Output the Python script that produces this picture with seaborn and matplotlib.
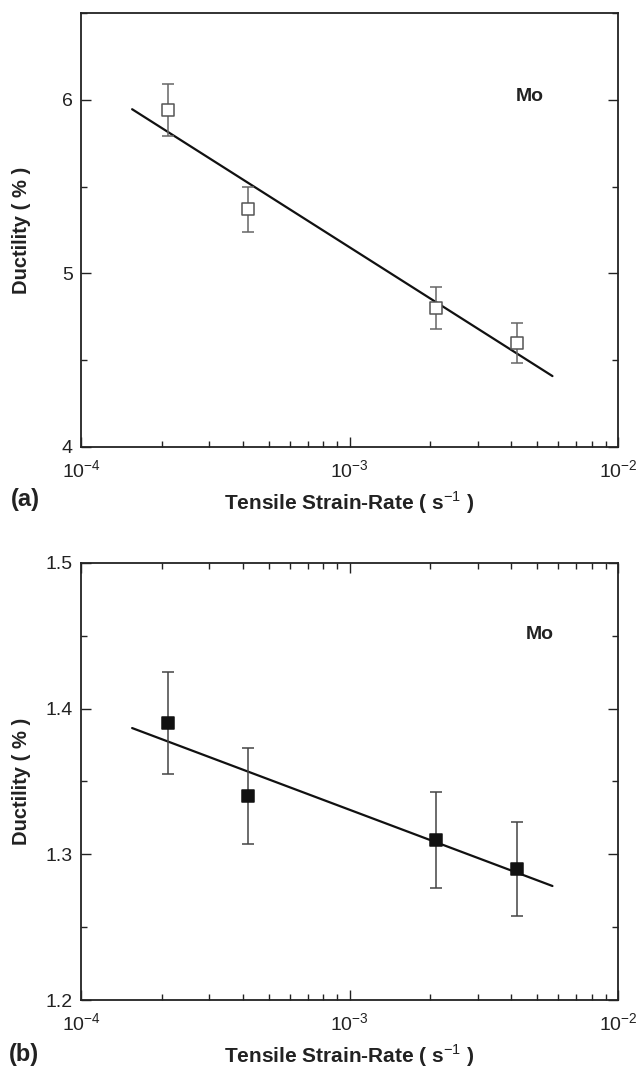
import numpy as np
import pandas as pd
import matplotlib
matplotlib.use("Agg")
import matplotlib.pyplot as plt
import seaborn as sns
from matplotlib.ticker import MultipleLocator, LogLocator

# --- Data ---

strain_rate = [2.1e-4, 4.2e-4, 2.1e-3, 4.2e-3]

ductility_a = [5.94, 5.37, 4.80, 4.60]
err_a = [0.15, 0.13, 0.12, 0.115]

ductility_b = [1.39, 1.34, 1.31, 1.29]
err_b = [0.035, 0.033, 0.033, 0.032]

panel_tags = ["(a)", "(b)"]
element = "Mo"
x_label = r"Tensile Strain-Rate ( s$^{-1}$ )"
y_label = "Ductility ( % )"

# range over which the fitted line is drawn
FIT_XMIN, FIT_XMAX = 1.55e-4, 5.7e-3

sns.set_style("ticks")
plt.rcParams["font.family"] = ["Liberation Sans", "DejaVu Sans"]
plt.rcParams["mathtext.fontset"] = "custom"
plt.rcParams["mathtext.rm"] = "Liberation Sans"
plt.rcParams["mathtext.bf"] = "Liberation Sans:bold"
plt.rcParams["axes.unicode_minus"] = False

INK = "#222222"


def draw_panel(ax, y, err, filled, ylim, ymajor, yminor, mo_pos, ecolor):
    df = pd.DataFrame({"rate": strain_rate, "ductility": y})

    # least-squares line of ductility vs log10(rate)
    slope, icpt = np.polyfit(np.log10(df["rate"]), df["ductility"], 1)
    xs = np.logspace(np.log10(FIT_XMIN), np.log10(FIT_XMAX), 50)
    fit = pd.DataFrame({"rate": xs, "ductility": slope * np.log10(xs) + icpt})
    sns.lineplot(data=fit, x="rate", y="ductility", ax=ax, color="#111111",
                 linewidth=1.6, zorder=2)

    ax.errorbar(df["rate"], df["ductility"], yerr=err, fmt="none",
                ecolor=ecolor, elinewidth=1.1, capsize=4.5, capthick=1.1, zorder=3)
    sns.scatterplot(data=df, x="rate", y="ductility", ax=ax, marker="s", s=70,
                    color="#111111" if filled else "white",
                    edgecolor="#111111" if filled else "#555555",
                    linewidth=1.1, zorder=4)

    ax.set_xscale("log")
    ax.set_xlim(1e-4, 1e-2)
    ax.set_ylim(*ylim)
    ax.xaxis.set_major_locator(LogLocator(base=10, numticks=5))
    ax.xaxis.set_minor_locator(LogLocator(base=10, subs=np.arange(2, 10), numticks=20))
    ax.yaxis.set_major_locator(MultipleLocator(ymajor))
    ax.yaxis.set_minor_locator(MultipleLocator(yminor))
    ax.tick_params(which="both", direction="in", top=True, right=True,
                   width=1.0, colors=INK, labelcolor=INK)
    ax.tick_params(which="major", length=7, labelsize=14)
    ax.tick_params(which="minor", length=4)
    ax.tick_params(axis="y", pad=6)
    ax.tick_params(axis="x", pad=9)
    for sp in ax.spines.values():
        sp.set_linewidth(1.3)
        sp.set_color(INK)

    ax.set_xlabel(x_label, fontsize=15, fontweight="bold", color=INK, va="top")
    ax.xaxis.set_label_coords(0.5, -0.098)
    ax.set_ylabel(y_label, fontsize=14.5, fontweight="bold", color=INK, va="center")
    ax.yaxis.set_label_coords(-0.11, 0.5)
    ax.text(mo_pos[0], mo_pos[1], element, fontsize=14, fontweight="bold",
            ha="center", va="center", color=INK)


fig = plt.figure(figsize=(6.36, 10.74), dpi=100)
ax_a = fig.add_axes([0.1274, 0.5838, 0.8443, 0.4041])
ax_b = fig.add_axes([0.1274, 0.0689, 0.8443, 0.4069])

draw_panel(ax_a, ductility_a, err_a, False, (4, 6.5), 1, 0.5, (4.7e-3, 6.02), "#666666")
draw_panel(ax_b, ductility_b, err_b, True, (1.2, 1.5), 0.1, 0.05, (5.1e-3, 1.451), "#444444")
ax_a.tick_params(top=False, which="both")

fig.text(0.04, 0.535, panel_tags[0], fontsize=17, fontweight="bold",
         ha="center", va="center", color=INK)
fig.text(0.037, 0.018, panel_tags[1], fontsize=17, fontweight="bold",
         ha="center", va="center", color=INK)

fig.savefig("out.png", dpi=100, facecolor="white")
